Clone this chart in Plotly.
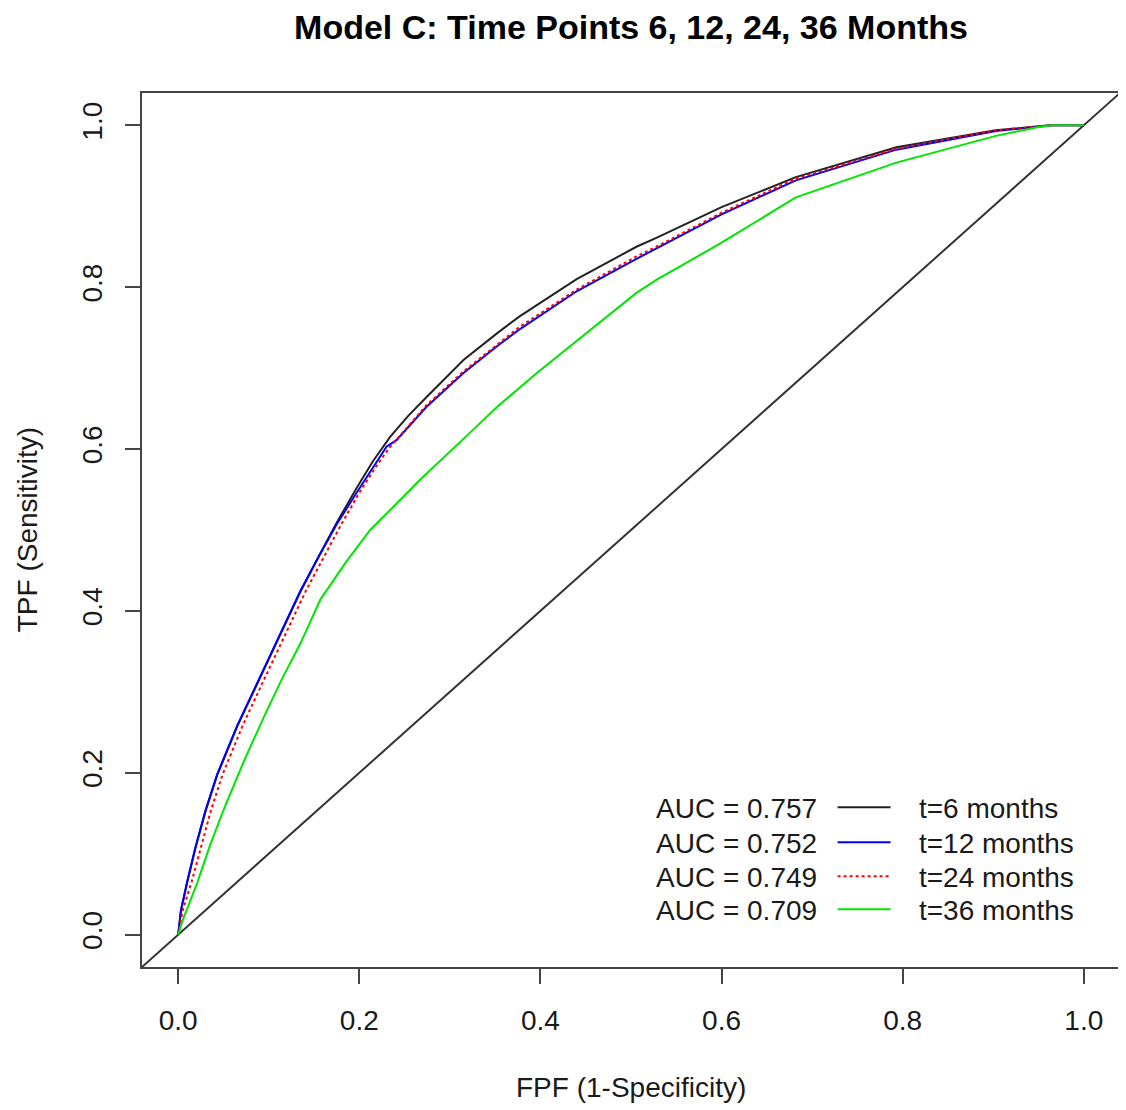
import plotly.graph_objects as go

# ---- data ----
t6_fpf = [0, 0.003, 0.010, 0.019, 0.030, 0.043, 0.065, 0.087, 0.110, 0.135, 0.155, 0.175, 0.197,
          0.215, 0.234, 0.254, 0.274, 0.295, 0.315, 0.352, 0.377, 0.44, 0.506, 0.528, 0.60,
          0.682, 0.793, 0.903, 0.962, 1.0]
t6_tpf = [0, 0.030, 0.065, 0.107, 0.152, 0.197, 0.257, 0.310, 0.365, 0.424, 0.467, 0.509, 0.552,
          0.585, 0.615, 0.641, 0.664, 0.688, 0.710, 0.743, 0.764, 0.810, 0.850, 0.861, 0.899,
          0.936, 0.973, 0.994, 1.0, 1.0]

t12_fpf = [0, 0.003, 0.010, 0.019, 0.030, 0.043, 0.065, 0.087, 0.110, 0.135, 0.155, 0.175, 0.197,
           0.215, 0.230, 0.241, 0.274, 0.315, 0.352, 0.377, 0.44, 0.506, 0.528, 0.60, 0.682,
           0.793, 0.903, 0.965, 1.0]
t12_tpf = [0, 0.030, 0.066, 0.108, 0.153, 0.198, 0.258, 0.311, 0.366, 0.425, 0.467, 0.507, 0.546,
           0.578, 0.603, 0.611, 0.652, 0.694, 0.727, 0.748, 0.795, 0.835, 0.848, 0.890, 0.932,
           0.970, 0.993, 1.0, 1.0]

t24_fpf = [0, 0.005, 0.015, 0.025, 0.036, 0.049, 0.071, 0.093, 0.116, 0.141, 0.161, 0.180, 0.200,
           0.217, 0.232, 0.274, 0.315, 0.352, 0.377, 0.44, 0.506, 0.528, 0.60, 0.682, 0.793,
           0.903, 0.965, 1.0]
t24_tpf = [0, 0.030, 0.066, 0.108, 0.153, 0.198, 0.258, 0.311, 0.366, 0.425, 0.467, 0.507, 0.546,
           0.576, 0.600, 0.654, 0.696, 0.729, 0.751, 0.797, 0.838, 0.850, 0.892, 0.934, 0.971,
           0.994, 1.0, 1.0]

t36_fpf = [0, 0.005, 0.021, 0.035, 0.050, 0.072, 0.095, 0.115, 0.135, 0.157, 0.185, 0.212, 0.245,
           0.267, 0.322, 0.352, 0.396, 0.506, 0.528, 0.60, 0.682, 0.793, 0.903, 0.95, 0.965, 1.0]
t36_tpf = [0, 0.018, 0.064, 0.110, 0.154, 0.213, 0.270, 0.317, 0.360, 0.414, 0.460, 0.500, 0.537,
           0.562, 0.620, 0.652, 0.694, 0.793, 0.809, 0.855, 0.911, 0.954, 0.987, 0.998, 1.0, 1.0]

diag_x = [-0.1, 1.1]
diag_y = [-0.1, 1.1]

series_names = ["t=6 months", "t=12 months", "t=24 months", "t=36 months"]
auc_labels = ["AUC = 0.757", "AUC = 0.752", "AUC = 0.749", "AUC = 0.709"]
tick_vals = [0, 0.2, 0.4, 0.6, 0.8, 1.0]
tick_text = ["0.0", "0.2", "0.4", "0.6", "0.8", "1.0"]

FONT = "Arial, Liberation Sans, sans-serif"
AX = "#444444"
TXT = "#1a1a1a"
GAP = "\u00a0\u00a0\u00a0"   # spacing between legend key line and its label

# figure geometry (page body adds an 8px offset)
W, H = 1118, 1102
ML, MR, MT, MB = 134, 4, 85, 143
PW = W - ML - MR
PH = H - MT - MB


def px_to_paper_y(screen_y):
    return (MT + 8 + PH - screen_y) / PH


def px_to_paper_x(screen_x):
    return (screen_x - (ML + 8)) / PW


fig = go.Figure()
fig.add_trace(go.Scatter(x=diag_x, y=diag_y, mode="lines", showlegend=False,
                         line=dict(color="#333333", width=2), hoverinfo="skip"))
styles = [dict(color="#222222", width=2),
          dict(color="#0000FF", width=2),
          dict(color="#FF0000", width=2, dash="dot"),
          dict(color="#00E600", width=2)]
legend_ids = ["legend", "legend2", "legend3", "legend4"]
for xs, ys, nm, st, lg in zip([t6_fpf, t12_fpf, t24_fpf, t36_fpf],
                              [t6_tpf, t12_tpf, t24_tpf, t36_tpf],
                              series_names, styles, legend_ids):
    fig.add_trace(go.Scatter(x=xs, y=ys, mode="lines", name=GAP + nm, line=st, legend=lg))

axis_common = dict(range=[-0.04, 1.04], tickvals=tick_vals, ticktext=tick_text,
                   ticks="outside", ticklen=15, tickwidth=2, tickcolor=AX,
                   showline=True, mirror=True, linecolor=AX, linewidth=2,
                   showgrid=False, zeroline=False,
                   tickfont=dict(family=FONT, size=28, color=TXT))

row_centers = [808, 843, 877, 910]          # screen rows of the legend
legend_left = 834

layout_legends = {}
for lg, rc in zip(legend_ids, row_centers):
    layout_legends[lg] = dict(x=px_to_paper_x(legend_left), xanchor="left",
                              y=px_to_paper_y(rc - 25.5), yanchor="top",
                              font=dict(family=FONT, size=28, color=TXT),
                              bgcolor="rgba(0,0,0,0)", borderwidth=0, itemwidth=53)

fig.update_layout(
    width=W, height=H, autosize=False,
    margin=dict(l=ML, r=MR, t=MT, b=MB),
    paper_bgcolor="white", plot_bgcolor="white",
    title=dict(text="<b>Model C: Time Points 6, 12, 24, 36 Months</b>",
               font=dict(family=FONT, size=34, color="black"),
               x=0.5, xref="paper", xanchor="center",
               y=1 - 19 / H, yref="container", yanchor="middle"),
    xaxis=dict(**axis_common, ticklabelstandoff=12),
    yaxis=dict(**axis_common, tickangle=-90, ticklabelstandoff=12),
    showlegend=True,
    **layout_legends,
)

# axis titles
fig.add_annotation(text="FPF (1-Specificity)", xref="paper", yref="paper",
                   x=0.5, y=px_to_paper_y(1087), xanchor="center", yanchor="middle",
                   showarrow=False, font=dict(family=FONT, size=28, color=TXT))
fig.add_annotation(text="TPF (Sensitivity)", xref="paper", yref="paper",
                   x=px_to_paper_x(27), y=0.5, xanchor="center", yanchor="middle",
                   showarrow=False, textangle=-90, font=dict(family=FONT, size=28, color=TXT))

# AUC labels beside the legend rows
for lab, rc in zip(auc_labels, row_centers):
    fig.add_annotation(text=lab, xref="paper", yref="paper", x=px_to_paper_x(655),
                       y=px_to_paper_y(rc), xanchor="left", yanchor="middle", showarrow=False,
                       font=dict(family=FONT, size=28, color=TXT))

fig.write_html("out.html")
